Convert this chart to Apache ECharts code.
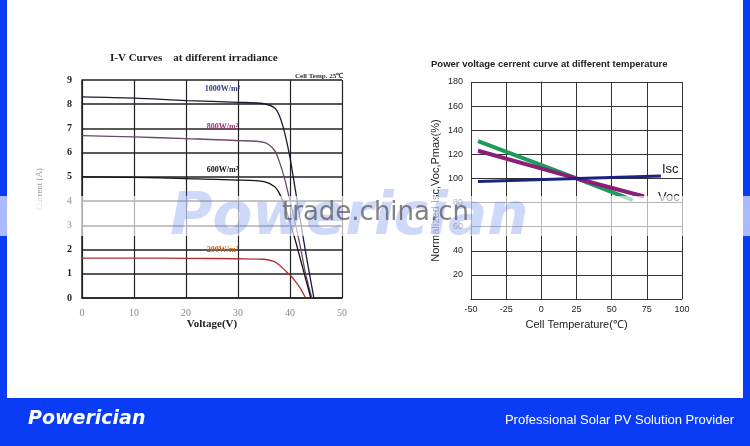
<!DOCTYPE html>
<html><head><meta charset="utf-8">
<script src="https://cdn.jsdelivr.net/npm/echarts@6/dist/echarts.min.js"></script>
<style>html,body{margin:0;padding:0;background:#fff}#main{width:750px;height:446px}</style>
</head><body><div id="main"></div>
<script>
// I-V curves (voltage, current)
var iv1000 = [[0,8.3],[10,8.25],[20,8.15],[30,8.08],[35,8.02],[37,7.85],[38,7.5],[39,6.8],[40,5.8],[41,4.5],[42,3.2],[43,1.9],[44,0.7],[44.6,0]];
var iv800 = [[0,6.7],[10,6.65],[20,6.58],[30,6.5],[35,6.42],[37,6.1],[38,5.6],[39,4.9],[40,4.0],[41,3.1],[42,2.1],[43,1.0],[44.2,0]];
var iv600 = [[0,5.0],[10,4.98],[20,4.93],[30,4.87],[35,4.8],[37,4.6],[38,4.3],[39,3.8],[40,3.1],[41,2.4],[42,1.6],[43,0.8],[44,0]];
var iv200 = [[0,1.65],[10,1.65],[20,1.64],[30,1.62],[35,1.6],[37,1.5],[38,1.35],[39,1.15],[40,0.95],[41,0.7],[42,0.4],[43,0]];
// temperature curves (temp, %)
var isc = [[-45,97.5],[85,102]];
var pmax = [[-45,131],[25,100],[65,82]];
var voc = [[-45,123],[25,100],[73,85]];

var serif = 'Liberation Serif';
var chart = echarts.init(document.getElementById('main'));

function ivLine(name, data, color, label, lx, ly, lcolor) {
    return {
        name: name, type: 'line', xAxisIndex: 0, yAxisIndex: 0, data: data,
        smooth: 0.3, symbol: 'none', lineStyle: {color: color, width: 1.3},
        markPoint: {symbol: 'circle', symbolSize: 0, data: [{coord: [lx, ly]}],
            label: {show: true, position: 'inside', formatter: label, color: lcolor, fontFamily: serif, fontSize: 8, fontWeight: 'bold'}}
    };
}
function tLine(data, color, w) {
    return {type: 'line', xAxisIndex: 1, yAxisIndex: 1, data: data, symbol: 'none',
        lineStyle: {color: color, width: w}};
}

chart.setOption({
    animation: false,
    grid: [
        {left: 82, top: 80, width: 260, height: 218},
        {left: 471, top: 82, width: 211, height: 217}
    ],
    xAxis: [
        {gridIndex: 0, type: 'value', min: 0, max: 50, interval: 10,
            name: 'Voltage(V)', nameLocation: 'middle', nameGap: 20,
            nameTextStyle: {fontFamily: serif, fontWeight: 'bold', fontSize: 11, color: '#222'},
            axisLine: {lineStyle: {color: '#222', width: 1.5}}, axisTick: {show: false},
            axisLabel: {fontFamily: serif, fontSize: 10, color: '#888', margin: 10},
            splitLine: {lineStyle: {color: '#222', width: 1.2}}},
        {gridIndex: 1, type: 'value', min: -50, max: 100, interval: 25,
            name: 'Cell Temperature(℃)', nameLocation: 'middle', nameGap: 20,
            nameTextStyle: {fontFamily: 'Liberation Sans', fontSize: 11, color: '#222'},
            axisLine: {lineStyle: {color: '#333'}}, axisTick: {show: false},
            axisLabel: {fontFamily: 'Liberation Sans', fontSize: 9, color: '#222', margin: 6},
            splitLine: {lineStyle: {color: '#333', width: 1}}}
    ],
    yAxis: [
        {gridIndex: 0, type: 'value', min: 0, max: 9, interval: 1,
            name: 'Current (A)', nameLocation: 'middle', nameGap: 38,
            nameTextStyle: {fontFamily: serif, fontSize: 9, color: '#999'},
            axisLine: {lineStyle: {color: '#222', width: 1.5}}, axisTick: {show: false},
            axisLabel: {fontFamily: serif, fontWeight: 'bold', fontSize: 10, color: '#222', margin: 10},
            splitLine: {lineStyle: {color: '#222', width: 1.6}}},
        {gridIndex: 1, type: 'value', min: 0, max: 180, interval: 20,
            name: 'Normalized Isc,Voc,Pmax(%)', nameLocation: 'middle', nameGap: 30,
            nameTextStyle: {fontFamily: 'Liberation Sans', fontSize: 11, color: '#222'},
            axisLine: {lineStyle: {color: '#333'}}, axisTick: {show: false},
            axisLabel: {fontFamily: 'Liberation Sans', fontSize: 9, color: '#222', margin: 8,
                formatter: function (v) { return v === 0 ? '' : v; }},
            splitLine: {lineStyle: {color: '#333', width: 1}}}
    ],
    title: [
        {text: 'I-V Curves    at different irradiance', left: 105, top: 48,
            textStyle: {fontFamily: serif, fontSize: 11, fontWeight: 'bold', color: '#222'}},
        {text: 'Cell Temp. 25℃', left: 290, top: 68,
            textStyle: {fontFamily: serif, fontSize: 7, fontWeight: 'bold', color: '#333'}},
        {text: 'Power voltage cerrent curve at different temperature', left: 426, top: 54,
            textStyle: {fontFamily: 'Liberation Sans', fontSize: 9.5, fontWeight: 'bold', color: '#222'}},
        {text: 'Isc', left: 657, top: 158, textStyle: {fontFamily: 'Liberation Sans', fontSize: 13, fontWeight: 'normal', color: '#111'}},
        {text: 'Voc', left: 653, top: 186, textStyle: {fontFamily: 'Liberation Sans', fontSize: 13, fontWeight: 'normal', color: '#111'}}
    ],
    series: [
        ivLine('1000', iv1000, '#1a1a33', '1000W/m²', 27, 8.65, '#2a3a7a'),
        ivLine('800', iv800, '#6a4a6a', '800W/m²', 27, 7.05, '#a0307a'),
        ivLine('600', iv600, '#111', '600W/m²', 27, 5.3, '#111'),
        ivLine('200', iv200, '#b03030', '200W/m²', 27, 2.0, '#c06010'),
        tLine(pmax, '#1f9a5a', 4),
        tLine(voc, '#8a1f7a', 4),
        tLine(isc, '#1a237e', 3)
    ],
    graphic: [
        {type: 'rect', shape: {x: 0, y: 0, width: 7, height: 446}, style: {fill: '#0a3cf5'}},
        {type: 'rect', shape: {x: 743, y: 0, width: 7, height: 446}, style: {fill: '#0a3cf5'}},
        {type: 'rect', shape: {x: 0, y: 398, width: 750, height: 48}, style: {fill: '#0a3cf5'}},
        {type: 'text', left: 28, top: 410, style: {text: 'Powerician', fill: '#fff',
            font: 'italic bold 19px "DejaVu Sans"'}},
        {type: 'text', right: 16, top: 414, style: {text: 'Professional Solar PV Solution Provider', fill: '#fff',
            font: '13px "Liberation Sans Narrow", "Liberation Sans"'}},
        {type: 'rect', shape: {x: 0, y: 196, width: 750, height: 40}, style: {fill: 'rgba(255,255,255,0.65)'}, z: 100},
        {type: 'text', left: 170, top: 190, z: 101, style: {text: 'Powerician', fill: 'rgba(80,120,235,0.28)',
            font: 'italic bold 58px "DejaVu Sans"'}},
        {type: 'text', left: 282, top: 200, z: 102, style: {text: 'trade.china.cn', fill: 'rgba(90,90,90,0.75)',
            font: '26px "DejaVu Sans"'}}
    ]
});
</script></body></html>
